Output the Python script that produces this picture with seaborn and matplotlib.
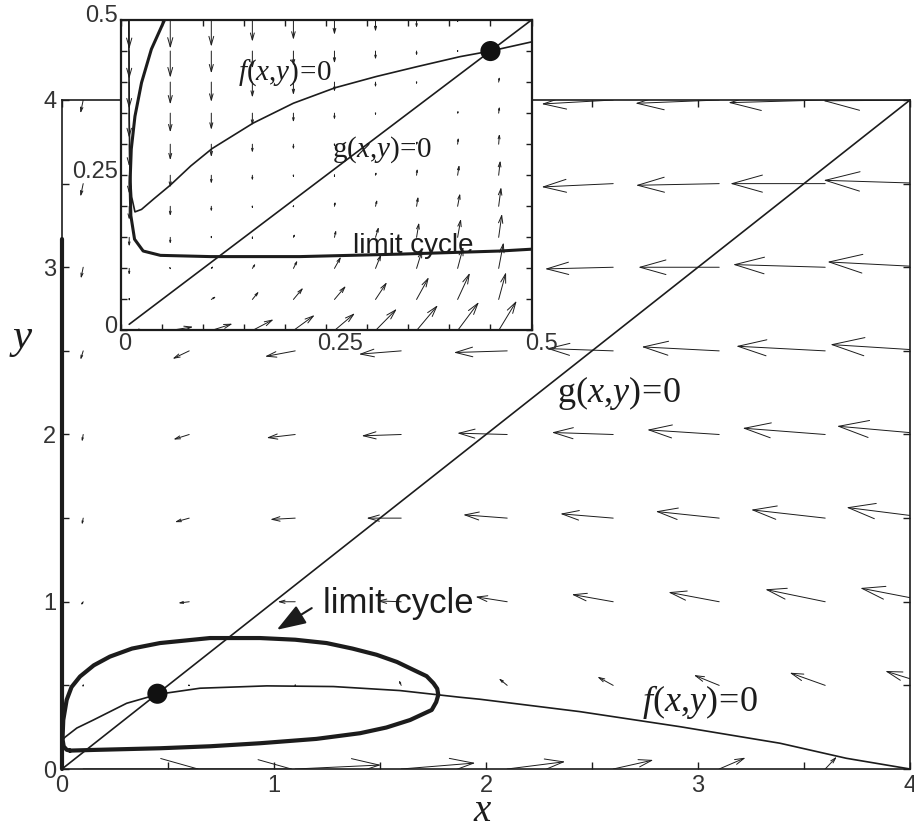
import numpy as np
import pandas as pd
import matplotlib
matplotlib.use("Agg")
import matplotlib.pyplot as plt
import matplotlib.transforms as mtransforms
import seaborn as sns
from matplotlib.patches import FancyArrowPatch
from matplotlib.ticker import FixedLocator, FixedFormatter

sns.set_theme(style="ticks")
plt.rcParams["font.family"] = ["Liberation Sans", "DejaVu Sans"]
plt.rcParams["mathtext.fontset"] = "custom"
plt.rcParams["mathtext.rm"] = "Liberation Serif"
plt.rcParams["mathtext.it"] = "Liberation Serif:italic"

# ---------------- data ----------------
# main phase plane: nullclines, limit cycle, equilibrium
g_main_x = [0.0, 4.0]
g_main_y = [0.0, 4.0]
f_main_x = [0.0, 0.014, 0.07, 0.148, 0.305, 0.454, 0.651, 0.966, 1.28, 1.594,
            1.877, 1.972, 2.443, 2.915, 3.387, 3.70, 4.0]
f_main_y = [0.17, 0.19, 0.245, 0.293, 0.393, 0.447, 0.483, 0.497, 0.493, 0.469,
            0.429, 0.417, 0.343, 0.253, 0.154, 0.064, 0.0]
cyc_main_x = [0.038, 0.148, 0.462, 0.70, 0.934, 1.20, 1.406, 1.53, 1.642, 1.744,
              1.765, 1.775, 1.770, 1.752, 1.72, 1.657, 1.58, 1.484, 1.37, 1.248,
              1.10, 0.934, 0.698, 0.462, 0.33, 0.226, 0.15, 0.085, 0.045, 0.022,
              0.006, 0.003, 0.003, 0.008, 0.022, 0.038]
cyc_main_y = [0.110, 0.114, 0.124, 0.136, 0.154, 0.180, 0.214, 0.248, 0.293, 0.353,
              0.400, 0.443, 0.480, 0.513, 0.555, 0.593, 0.640, 0.683, 0.720, 0.753,
              0.773, 0.783, 0.783, 0.753, 0.720, 0.672, 0.620, 0.553, 0.490, 0.413,
              0.293, 0.200, 0.174, 0.135, 0.115, 0.110]
axis_traj_x = [0.0, 0.0]
axis_traj_y = [0.0, 3.17]
eq_x = [0.45]
eq_y = [0.45]

# main vector field: tails on a grid, components in data units
main_x_cols = [0.1, 0.6, 1.1, 1.6, 2.1, 2.6, 3.1, 3.6, 4.1]
main_y_rows = [0.0, 0.5, 1.0, 1.5, 2.0, 2.5, 3.0, 3.5, 4.0]
nan = float("nan")
main_U = [
    [0.55, 0.49, 0.405, 0.35, 0.274, 0.19, 0.125, 0.055, nan],
    [-0.003, -0.01, 0.0, -0.011, -0.04, -0.075, -0.12, -0.168, -0.217],
    [-0.011, -0.052, -0.083, -0.113, -0.15, -0.196, -0.24, -0.283, -0.335],
    [-0.006, -0.068, -0.118, -0.164, -0.208, -0.25, -0.30, -0.35, -0.40],
    [-0.006, -0.075, -0.135, -0.187, -0.236, -0.29, -0.34, -0.39, -0.445],
    [-0.013, -0.079, -0.143, -0.20, -0.252, -0.314, -0.366, -0.42, -0.476],
    [-0.011, nan, nan, nan, nan, -0.322, -0.382, -0.435, -0.49],
    [-0.013, nan, nan, nan, nan, -0.338, -0.393, -0.448, -0.508],
    [-0.013, nan, nan, nan, nan, -0.338, -0.396, -0.457, -0.51],
]
main_V = [
    [0.0, 0.0, 0.024, 0.036, 0.044, 0.054, 0.068, 0.074, nan],
    [-0.012, 0.003, 0.01, 0.032, 0.042, 0.052, 0.062, 0.076, 0.086],
    [-0.022, -0.008, 0.0, 0.005, 0.03, 0.044, 0.057, 0.074, 0.082],
    [-0.04, -0.024, -0.008, 0.0, 0.02, 0.026, 0.04, 0.05, 0.064],
    [-0.044, -0.03, -0.02, -0.008, 0.008, 0.012, 0.028, 0.038, 0.05],
    [-0.054, -0.048, -0.034, -0.02, -0.01, 0.014, 0.024, 0.028, 0.038],
    [-0.068, nan, nan, nan, nan, -0.01, 0.0, 0.016, 0.032],
    [-0.078, nan, nan, nan, nan, -0.02, -0.01, 0.0, 0.02],
    [-0.08, nan, nan, nan, nan, -0.024, -0.02, -0.016, -0.005],
]

# inset (zoom near the origin)
g_in_x = [0.01, 0.5]
g_in_y = [0.01, 0.5]
f_in_x = [0.0095, 0.010, 0.011, 0.013, 0.017, 0.025, 0.040, 0.060, 0.085, 0.111,
          0.161, 0.210, 0.261, 0.311, 0.361, 0.413, 0.450, 0.501]
f_in_y = [0.50, 0.34, 0.26, 0.215, 0.191, 0.195, 0.212, 0.234, 0.265, 0.293,
          0.334, 0.366, 0.391, 0.409, 0.425, 0.441, 0.450, 0.465]
cyc_in_x = [0.053, 0.037, 0.025, 0.017, 0.0125, 0.011, 0.012, 0.0165, 0.027, 0.048,
            0.109, 0.218, 0.34, 0.462, 0.501]
cyc_in_y = [0.5, 0.453, 0.399, 0.345, 0.292, 0.238, 0.185, 0.147, 0.128, 0.121,
            0.119, 0.119, 0.123, 0.128, 0.131]

in_x_cols = [0.01, 0.06, 0.11, 0.16, 0.21, 0.26, 0.31, 0.36, 0.41, 0.46]
in_y_rows = [0.0, 0.05, 0.10, 0.15, 0.20, 0.25, 0.30, 0.35, 0.40, 0.45, 0.50]
in_U = [
    [0.02, 0.028, 0.026, 0.026, 0.026, 0.025, 0.026, 0.026, 0.026, 0.022],
    [0.0, 0.001, 0.006, 0.008, 0.012, 0.014, 0.014, 0.015, 0.015, 0.009],
    [0.0, 0.001, 0.003, 0.004, 0.005, 0.008, 0.007, 0.007, 0.007, 0.006],
    [0.0, 0.0, 0.0, 0.0, 0.002, 0.002, 0.004, 0.003, 0.004, 0.004],
    [0.0, 0.0, 0.0, 0.0, 0.001, 0.001, 0.002, 0.002, 0.003, 0.003],
    [0.0, 0.0, 0.0, 0.0, 0.0, 0.0, 0.001, 0.001, 0.002, 0.002],
    [0.0, 0.0, 0.0, 0.0, 0.0, 0.0, 0.0, 0.001, 0.001, 0.001],
    [0.0, 0.0, 0.0, 0.0, 0.0, 0.0, 0.0, 0.0, 0.001, 0.001],
    [0.0, 0.0, 0.0, 0.0, 0.0, 0.0, 0.0, 0.0, 0.0, 0.001],
    [0.0, 0.0, 0.0, 0.0, 0.0, 0.0, 0.0, 0.0, 0.0, 0.0],
    [0.0, 0.0, 0.0, 0.0, 0.0, 0.0, 0.0, 0.0, 0.0, 0.0],
]
in_V = [
    [0.0, 0.006, 0.011, 0.018, 0.025, 0.028, 0.035, 0.041, 0.046, 0.048],
    [-0.002, 0.0, 0.005, 0.013, 0.019, 0.022, 0.028, 0.036, 0.043, 0.044],
    [-0.011, -0.002, 0.004, 0.008, 0.013, 0.019, 0.023, 0.030, 0.035, 0.042],
    [-0.015, -0.011, -0.002, 0.002, 0.006, 0.012, 0.017, 0.024, 0.030, 0.038],
    [-0.022, -0.016, -0.009, -0.004, 0.003, 0.008, 0.011, 0.016, 0.021, 0.031],
    [-0.030, -0.020, -0.014, -0.009, -0.004, 0.002, 0.006, 0.011, 0.017, 0.024],
    [-0.036, -0.026, -0.021, -0.014, -0.009, -0.004, 0.0, 0.006, 0.011, 0.017],
    [-0.040, -0.031, -0.027, -0.020, -0.015, -0.011, -0.004, 0.001, 0.005, 0.011],
    [-0.043, -0.036, -0.032, -0.025, -0.021, -0.016, -0.009, -0.004, 0.0, 0.009],
    [-0.045, -0.043, -0.036, -0.028, -0.024, -0.020, -0.014, -0.008, -0.003, 0.002],
    [-0.047, -0.046, -0.043, -0.035, -0.032, -0.024, -0.019, -0.013, -0.005, -0.002],
]

main_ticks = [0, 1, 2, 3, 4]
main_ticklabels = ["0", "1", "2", "3", "4"]
in_ticks = [0, 0.25, 0.5]
in_ticklabels = ["0", "0.25", "0.5"]

# ---------------- figure ----------------
INK = "#1c1c1c"
DPI = 100
fig = plt.figure(figsize=(9.14, 8.30), dpi=DPI)
ax = fig.add_axes([62 / 914, 1 - 769 / 830, 848 / 914, 669 / 830])
ax.set_xlim(0, 4)
ax.set_ylim(0, 4)


def draw_field(a, xs, ys, U, V, lw, z=1):
    for j, yv in enumerate(ys):
        for i, xv in enumerate(xs):
            u, v = U[j][i], V[j][i]
            if np.isnan(u) or np.isnan(v):
                continue
            p0 = a.transData.transform((xv, yv))
            p1 = a.transData.transform((xv + u, yv + v))
            L = np.hypot(*(p1 - p0)) * 72.0 / DPI
            if L < 0.6:
                continue
            style = "->,head_length=%.3f,head_width=%.3f" % (0.32 * L, 0.09 * L)
            arr = FancyArrowPatch((xv, yv), (xv + u, yv + v), arrowstyle=style,
                                  mutation_scale=1, lw=lw, color=INK,
                                  shrinkA=0, shrinkB=0, zorder=z)
            a.add_patch(arr)


def style_axes(a, ticks, labels, minor_step, lim, tl, fs, pad, spw):
    a.set_xlim(*lim)
    a.set_ylim(*lim)
    minors = np.round(np.arange(lim[0], lim[1] + 1e-9, minor_step), 6)
    for axis in (a.xaxis, a.yaxis):
        axis.set_major_locator(FixedLocator(ticks))
        axis.set_major_formatter(FixedFormatter(labels))
        axis.set_minor_locator(FixedLocator(minors))
    a.tick_params(which="both", direction="in", top=True, right=True,
                  length=tl, width=1.0, color=INK, labelsize=fs,
                  labelcolor="#333333", pad=pad)
    for s in a.spines.values():
        s.set_linewidth(spw)
        s.set_color(INK)
    a.set_xlabel("")
    a.set_ylabel("")


draw_field(ax, main_x_cols, main_y_rows, main_U, main_V, 0.7)

df_f = pd.DataFrame({"x": f_main_x, "y": f_main_y})
df_g = pd.DataFrame({"x": g_main_x, "y": g_main_y})
df_c = pd.DataFrame({"x": cyc_main_x, "y": cyc_main_y})
df_t = pd.DataFrame({"x": axis_traj_x, "y": axis_traj_y})
sns.lineplot(data=df_g, x="x", y="y", ax=ax, color=INK, lw=1.2, sort=False, estimator=None, zorder=3)
sns.lineplot(data=df_f, x="x", y="y", ax=ax, color=INK, lw=1.2, sort=False, estimator=None, zorder=3)
sns.lineplot(data=df_c, x="x", y="y", ax=ax, color=INK, lw=3.0, sort=False, estimator=None, zorder=4)
ln = sns.lineplot(data=df_t, x="x", y="y", ax=ax, color=INK, lw=3.0, sort=False, estimator=None, zorder=4)
ln.lines[-1].set_clip_on(False)
sns.scatterplot(x=eq_x, y=eq_y, ax=ax, s=210, color="#111111", edgecolor="none", zorder=6)
style_axes(ax, main_ticks, main_ticklabels, 0.5, (0, 4), 5, 17, 4, 1.2)

EQ = r"\!=\!"
ax.text(2.333, 2.25, r"$\mathrm{g}(x{,}y)" + EQ + "0$", fontsize=26, color=INK, va="center", ha="left")
ax.text(2.734, 0.40, r"$f(x{,}y)" + EQ + "0$", fontsize=26, color=INK, va="center", ha="left")
ax.text(1.231, 0.934, "limit cycle", fontsize=25, color=INK, va="baseline", ha="left")
ax.annotate("", xy=(1.013, 0.832), xytext=(1.178, 0.962),
            arrowprops=dict(arrowstyle="-|>,head_length=1.0,head_width=0.35",
                            mutation_scale=18, lw=1.5, color=INK, shrinkA=0, shrinkB=0))
ax.text((482 - 62) / 848, (769 - 821) / 669, "x", transform=ax.transAxes, fontsize=28,
        family="Liberation Serif", style="italic", ha="center", va="baseline", color=INK)
ax.text((22 - 62) / 848, (769 - 338) / 669, "y", transform=ax.transAxes, fontsize=31,
        family="Liberation Serif", style="italic", ha="center", va="center", color=INK)

# ---------------- inset ----------------
axi = fig.add_axes([121 / 914, 1 - 330.5 / 830, 410.5 / 914, 310.5 / 830])
axi.set_facecolor("white")
axi.set_zorder(5)
axi.set_xlim(0, 0.5)
axi.set_ylim(0, 0.5)
draw_field(axi, in_x_cols, in_y_rows, in_U, in_V, 0.7)

dfi_f = pd.DataFrame({"x": f_in_x, "y": f_in_y})
dfi_g = pd.DataFrame({"x": g_in_x, "y": g_in_y})
dfi_c = pd.DataFrame({"x": cyc_in_x, "y": cyc_in_y})
sns.lineplot(data=dfi_g, x="x", y="y", ax=axi, color=INK, lw=1.2, sort=False, estimator=None, zorder=3)
sns.lineplot(data=dfi_f, x="x", y="y", ax=axi, color=INK, lw=1.2, sort=False, estimator=None, zorder=3)
sns.lineplot(data=dfi_c, x="x", y="y", ax=axi, color=INK, lw=2.2, sort=False, estimator=None, zorder=4)
sns.scatterplot(x=eq_x, y=eq_y, ax=axi, s=210, color="#111111", edgecolor="none", zorder=6)
style_axes(axi, in_ticks, in_ticklabels, 0.05, (0, 0.5), 4, 17, 1.5, 1.6)

# small label nudges as in the reference (in points)
x_nudge = [3.0, 10.0, 7.0]
for lab, dx in zip(axi.get_xticklabels(), x_nudge):
    lab.set_transform(lab.get_transform() + mtransforms.ScaledTranslation(dx / 72, 0, fig.dpi_scale_trans))
for lab in axi.get_yticklabels():
    lab.set_transform(lab.get_transform() + mtransforms.ScaledTranslation(-1 / 72, 4.5 / 72, fig.dpi_scale_trans))

axi.text(0.143, 0.415, r"$f(x{,}y)" + EQ + "0$", fontsize=21, color=INK, va="center", ha="left")
axi.text(0.257, 0.291, r"$\mathrm{g}(x{,}y)" + EQ + "0$", fontsize=21, color=INK, va="center", ha="left")
axi.text(0.283, 0.124, "limit cycle", fontsize=20, color=INK, va="baseline", ha="left")

fig.savefig("out.png", dpi=DPI)
